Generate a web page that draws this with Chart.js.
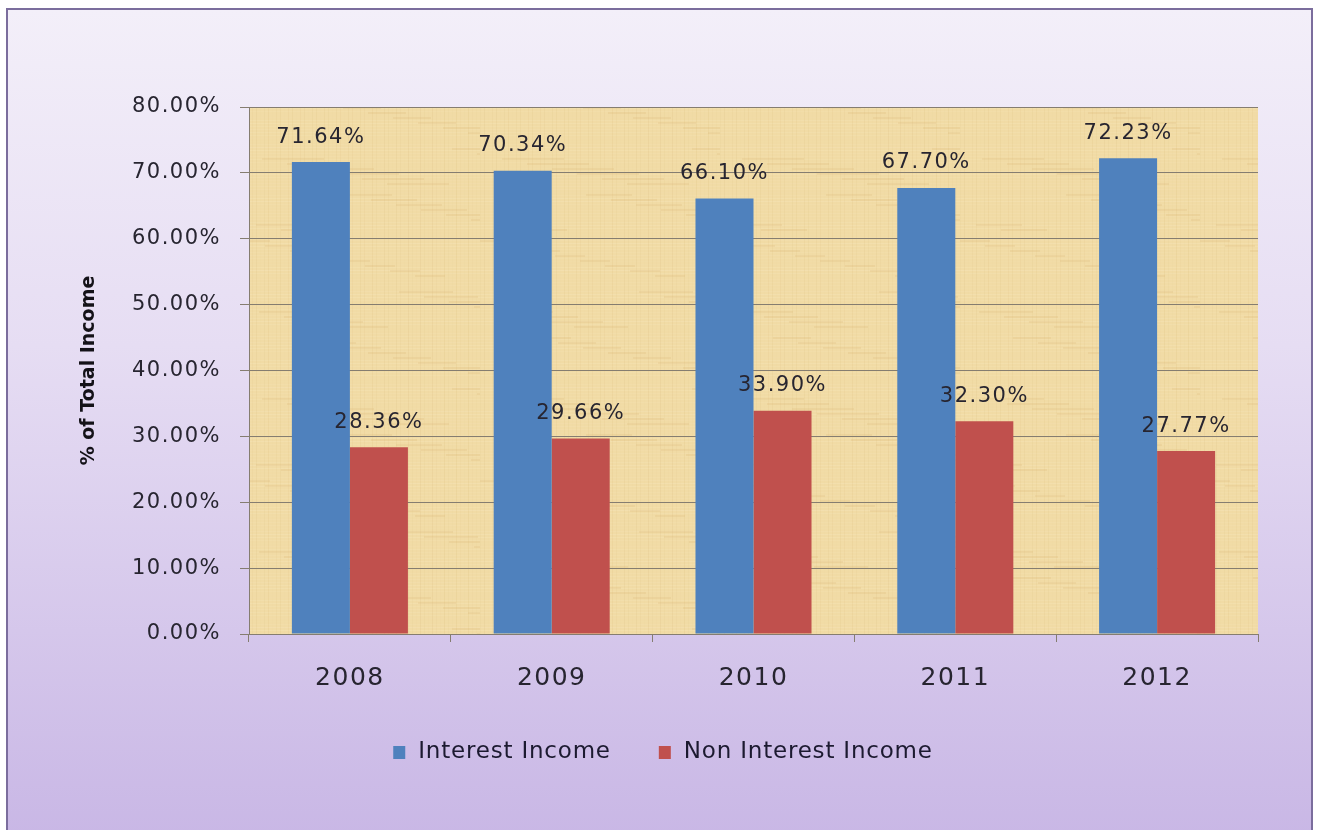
<!DOCTYPE html>
<html lang="en">
<head>
    <meta charset="UTF-8">
    <title>Interest vs Non Interest Income</title>
    <script src="https://cdn.jsdelivr.net/npm/chart.js@4/dist/chart.umd.min.js"></script>
    <style>
        html, body { margin: 0; padding: 0; background: #fff; }
        #wrap { position: relative; width: 1317px; height: 830px; overflow: hidden; }
        #frame {
            position: absolute; left: 6px; top: 8px; width: 1303px; height: 840px;
            border: 2px solid #7b6d9d;
            background: linear-gradient(to bottom, #f3eff9 0%, #e6ddf3 40%, #c8b6e5 100%);
        }
        #chart { position: absolute; left: 0; top: 0; }
    </style>
</head>
<body>
<div id="wrap">
    <div id="frame"></div>
    <canvas id="chart" width="1317" height="830"></canvas>
</div>
<script>
    // values
    const years = ['2008', '2009', '2010', '2011', '2012'];
    const interestIncome = [71.64, 70.34, 66.10, 67.70, 72.23];
    const nonInterestIncome = [28.36, 29.66, 33.90, 32.30, 27.77];
    const yTicks = [0, 10, 20, 30, 40, 50, 60, 70, 80];
    const yTitle = '% of Total Income';

    const FONT = "'DejaVu Sans', 'Open Sans', sans-serif";
    const gridColor = '#857d70';
    const textColor = '#272530';

    // papyrus-ish background for plot area
    function makeTexture() {
        const c = document.createElement('canvas');
        c.width = 240; c.height = 240;
        const g = c.getContext('2d');
        g.fillStyle = '#f1dba5';
        g.fillRect(0, 0, 240, 240);
        for (let y = 0; y < 240; y += 3) {
            const a = 0.10 + 0.08 * Math.sin(y * 0.37) * Math.cos(y * 0.11);
            g.fillStyle = 'rgba(255,245,215,' + Math.abs(a).toFixed(3) + ')';
            g.fillRect(0, y, 240, 1);
        }
        for (let x = 0; x < 240; x += 4) {
            const a = 0.06 + 0.05 * Math.sin(x * 0.53);
            g.fillStyle = 'rgba(200,165,95,' + Math.abs(a).toFixed(3) + ')';
            g.fillRect(x, 0, 1, 240);
        }
        for (let i = 0; i < 40; i++) {
            const x = (i * 53) % 240, y = (i * 97) % 240;
            g.fillStyle = 'rgba(215,180,110,0.18)';
            g.fillRect(x, y, 30 + (i % 5) * 8, 2);
        }
        return c;
    }
    const texture = makeTexture();

    const plotBg = {
        id: 'plotBg',
        beforeDraw(chart) {
            const { ctx, chartArea: a } = chart;
            ctx.letterSpacing = '1.5px';   // the original text is drawn quite wide
            ctx.save();
            ctx.fillStyle = ctx.createPattern(texture, 'repeat');
            ctx.fillRect(a.left, a.top, a.right - a.left, a.bottom - a.top);
            ctx.restore();
        }
    };

    const barLabels = {
        id: 'barLabels',
        afterDatasetsDraw(chart) {
            const ctx = chart.ctx;
            ctx.save();
            ctx.font = '21px ' + FONT;
            ctx.fillStyle = textColor;
            ctx.textAlign = 'center';
            ctx.textBaseline = 'middle';
            chart.data.datasets.forEach((ds, i) => {
                chart.getDatasetMeta(i).data.forEach((bar, j) => {
                    ctx.fillText(ds.data[j].toFixed(2) + '%', bar.x, bar.y - 25);
                });
            });
            ctx.restore();
        }
    };

    // legend and axis title drawn by hand so spacing matches
    const extras = {
        id: 'extras',
        afterDraw(chart) {
            const ctx = chart.ctx;
            const ds = chart.data.datasets;
            const a = chart.chartArea;
            ctx.save();
            ctx.letterSpacing = '0.8px';
            ctx.font = '23px ' + FONT;
            ctx.textBaseline = 'middle';
            ctx.textAlign = 'left';
            const widths = ds.map(d => ctx.measureText(d.label).width);
            const total = widths.reduce((s, w) => s + 12 + 13 + w, 0) + 48;
            let x = 663 - total / 2;
            const cy = 752;
            ds.forEach((d, i) => {
                ctx.fillStyle = d.backgroundColor;
                ctx.fillRect(x, cy - 6, 12, 13);
                x += 12 + 13;
                ctx.fillStyle = '#1c1a30';
                ctx.fillText(d.label, x, cy);
                x += widths[i] + 48;
            });

            ctx.letterSpacing = '0px';
            ctx.font = 'bold 19px ' + FONT;
            ctx.fillStyle = '#141218';
            ctx.textAlign = 'center';
            ctx.translate(89, (a.top + a.bottom) / 2);
            ctx.rotate(-Math.PI / 2);
            ctx.fillText(yTitle, 0, 0);
            ctx.restore();
        }
    };

    new Chart(document.getElementById('chart'), {
        type: 'bar',
        data: {
            labels: years,
            datasets: [
                { label: 'Interest Income', data: interestIncome, backgroundColor: '#4f81bd' },
                { label: 'Non Interest Income', data: nonInterestIncome, backgroundColor: '#c0504d' }
            ]
        },
        options: {
            responsive: false,
            animation: false,
            layout: { padding: { left: 0, top: 107, right: 59, bottom: 116 } },
            datasets: { bar: { categoryPercentage: 0.575, barPercentage: 1.0 } },
            plugins: {
                legend: { display: false },
                tooltip: { enabled: false }
            },
            scales: {
                x: {
                    grid: { drawOnChartArea: false, drawTicks: true, tickLength: 8, offset: true, color: gridColor },
                    border: { display: true, color: gridColor },
                    ticks: { color: textColor, padding: 21, font: { family: FONT, size: 25 } },
                    afterFit(scale) { scale.height = 80; }
                },
                y: {
                    min: 0, max: 80,
                    afterBuildTicks(scale) { scale.ticks = yTicks.map(v => ({ value: v })); },
                    ticks: {
                        color: textColor, padding: 19,
                        font: { family: FONT, size: 21 },
                        callback: v => v.toFixed(2) + '%'
                    },
                    grid: { color: gridColor, tickLength: 9 },
                    border: { display: true, color: gridColor },
                    afterFit(scale) { scale.width = 249; }
                }
            }
        },
        plugins: [plotBg, barLabels, extras]
    });
</script>
</body>
</html>
